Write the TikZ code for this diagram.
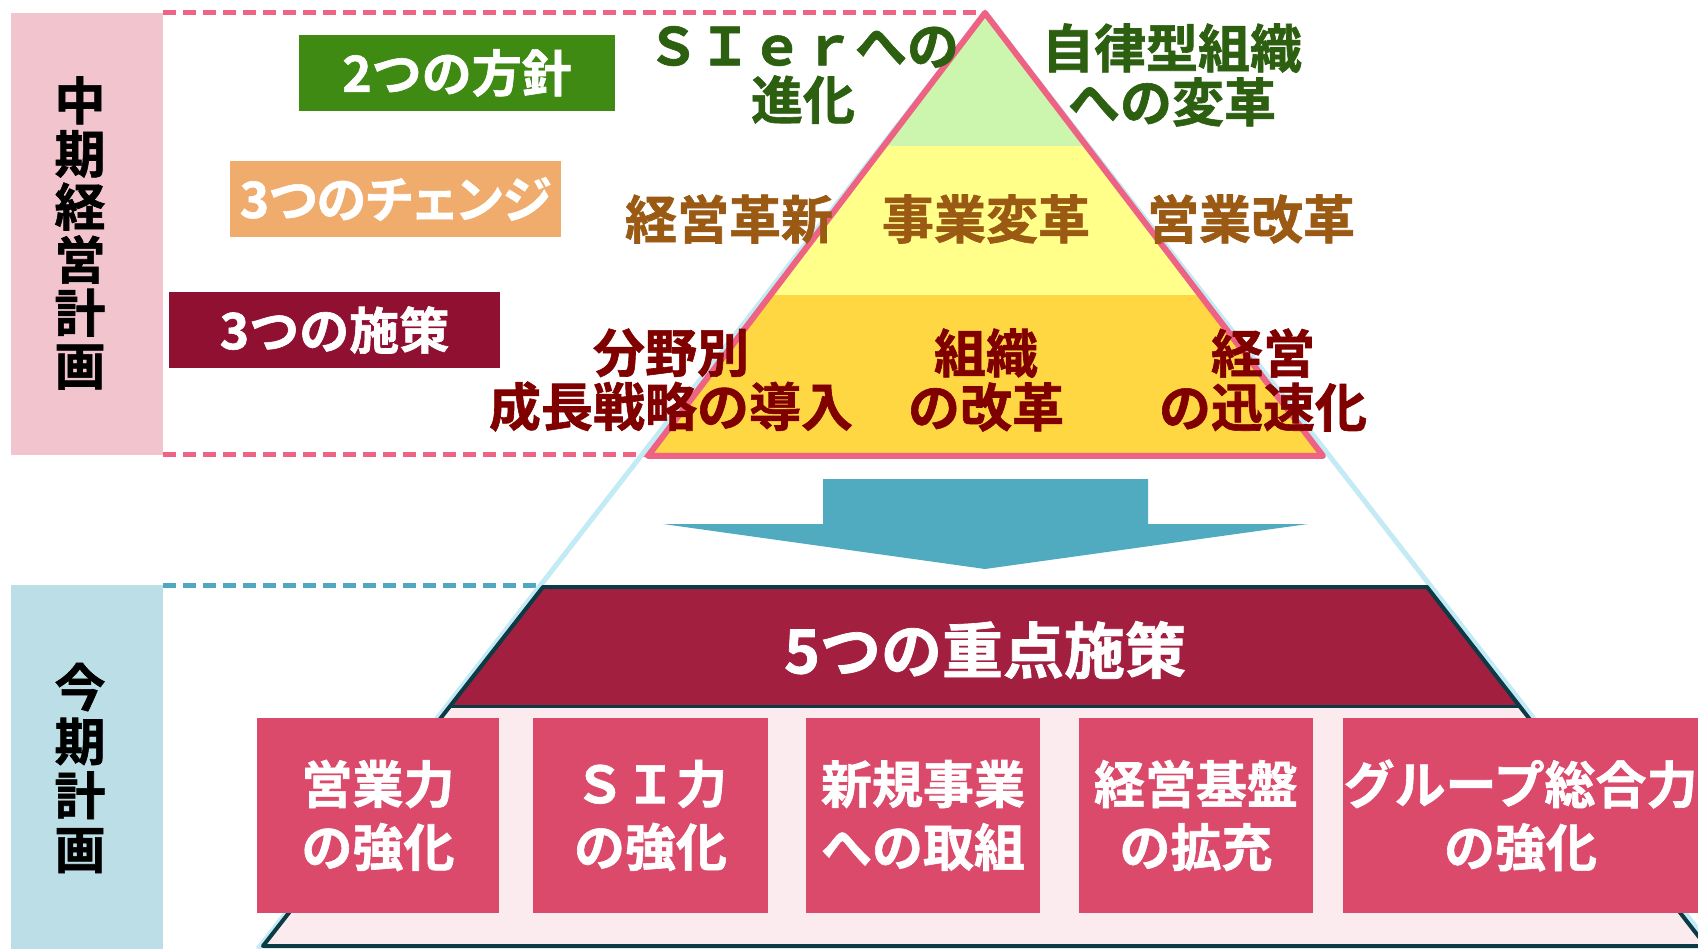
\documentclass[tikz,border=0pt]{standalone}
\usepackage{fontspec}
\setmainfont{Noto Sans CJK JP}[BoldFont={Noto Sans CJK JP Bold}, BoldFeatures={FakeBold=1.2}]
\newfontfamily\jpprop{Noto Sans CJK JP Bold}[RawFeature=+palt, FakeBold=1.2]
\definecolor{bandpink}{HTML}{F2C4CE}
\definecolor{bandblue}{HTML}{BCDFE7}
\definecolor{dashpink}{HTML}{EF6384}
\definecolor{dashteal}{HTML}{4FA8C0}
\definecolor{tripink}{HTML}{EE6283}
\definecolor{lgreen}{HTML}{CCF5AE}
\definecolor{lyellow}{HTML}{FFFF8A}
\definecolor{lorange}{HTML}{FFD743}
\definecolor{lblue}{HTML}{C3EBF6}
\definecolor{arrowc}{HTML}{50AAC0}
\definecolor{redtrap}{HTML}{A31F3F}
\definecolor{navy}{HTML}{0C3A45}
\definecolor{lpink}{HTML}{FBEAEE}
\definecolor{boxpink}{HTML}{DB4A6B}
\definecolor{lblgreen}{HTML}{3E8A12}
\definecolor{lblorange}{HTML}{EFAC6C}
\definecolor{lblred}{HTML}{8F1030}
\definecolor{txtgreen}{HTML}{2C5F10}
\definecolor{txtbrown}{HTML}{9B5A14}
\definecolor{txtred}{HTML}{800000}
\begin{document}
\begin{tikzpicture}[x=1pt,y=-1pt,
  jp/.style={font=\bfseries\fontsize{52}{54}\selectfont, inner sep=0pt, align=center},
  lbl/.style={font=\bfseries\fontsize{50}{54}\selectfont, text=white, inner sep=0pt,
    minimum height=76pt, align=center},
  itembox/.style={fill=boxpink, text=white, inner sep=0pt, minimum height=195pt,
    font=\bfseries\fontsize{51}{63}\selectfont, align=center},
  vtext/.style={font=\bfseries\fontsize{51}{53}\selectfont, inner sep=0pt, align=center, text=black},
  dashline/.style={line width=5pt, dash pattern=on 13pt off 7pt}
]
\useasboundingbox (0,0) rectangle (1698,949);
\fill[white] (0,0) rectangle (1698,949);

% left bands
\fill[bandpink] (11,13) rectangle (163,455);
\fill[bandblue] (11,585) rectangle (163,949);
\node[vtext] (mid) at (80,233) {中\\期\\経\\営\\計\\画};
\node[vtext, font=\bfseries\fontsize{51}{54}\selectfont] (cur) at (80,768) {今\\期\\計\\画};

% dashed guide lines
\draw[dashline, dashpink] (163,13) -- (982,13);
\draw[dashline, dashpink] (163,455) -- (646,455);
\draw[dashline, dashteal] (163,585) -- (538,585);

% big light blue triangle outline
\coordinate (apex) at (985,13);
\draw[lblue, line width=5pt] (258,949) -- (apex) -- (1713,949);

% lower trapezoid
\fill[lpink] (543,587) -- (1427,587) -- (1706,946) -- (263,946) -- cycle;
\fill[redtrap] (543,587) -- (1427,587) -- (1520,706) -- (450,706) -- cycle;
\draw[navy, line width=3pt] (450,706) -- (1520,706);
\draw[navy, line width=4pt, line join=round] (263,946) -- (543,587) -- (1427,587) -- (1706,946) -- cycle;
\node[font=\bfseries\fontsize{61}{64}\selectfont, text=white, inner sep=0pt] (five) at (985,650) {5つの重点施策};

% arrow
\fill[arrowc] (823,479) -- (1148,479) -- (1148,524) -- (1308,524) -- (985,569) -- (663,524) -- (823,524) -- cycle;

% pink pyramid
\begin{scope}
\clip (985,13) -- (1323,456) -- (648,456) -- cycle;
\fill[lgreen] (600,0) rectangle (1400,146);
\fill[lyellow] (600,146) rectangle (1400,295);
\fill[lorange] (600,295) rectangle (1400,470);
\end{scope}
\draw[tripink, line width=6pt, line join=round] (985,13) -- (1323,456) -- (648,456) -- cycle;

% label boxes
\node[lbl, fill=lblgreen, minimum width=316pt] (p2) at (457,73) {2つの方針};
\node[lbl, fill=lblorange, minimum width=331pt, font=\jpprop\fontsize{50}{54}\selectfont] (c3) at (395.5,199) {3つのチェンジ};
\node[lbl, fill=lblred, minimum width=331pt] (m3) at (334.5,330) {3つの施策};

% texts
\node[jp, text=txtgreen] (sier) at (803,75) {ＳＩｅｒへの\\進化};
\node[jp, text=txtgreen] (jiritsu) at (1172,75) {自律型組織\\への変革};
\node[jp, text=txtbrown] (kk) at (729,219) {経営革新};
\node[jp, text=txtbrown] (jh) at (986,219) {事業変革};
\node[jp, text=txtbrown] (ek) at (1251,219) {営業改革};
\node[jp, text=txtred] (bun) at (671,380) {分野別\\成長戦略の導入};
\node[jp, text=txtred] (sos) at (986,380) {組織\\の改革};
\node[jp, text=txtred] (kei) at (1263,380) {経営\\の迅速化};

% item boxes
\node[itembox, minimum width=242pt] (b1) at (378,815.5) {営業力\\の強化};
\node[itembox, minimum width=235pt] (b2) at (650.5,815.5) {ＳＩ力\\の強化};
\node[itembox, minimum width=234pt] (b3) at (923,815.5) {新規事業\\への取組};
\node[itembox, minimum width=234pt] (b4) at (1196,815.5) {経営基盤\\の拡充};
\node[itembox, minimum width=355pt] (b5) at (1520.5,815.5) {グループ総合力\\の強化};
\end{tikzpicture}
\end{document}
